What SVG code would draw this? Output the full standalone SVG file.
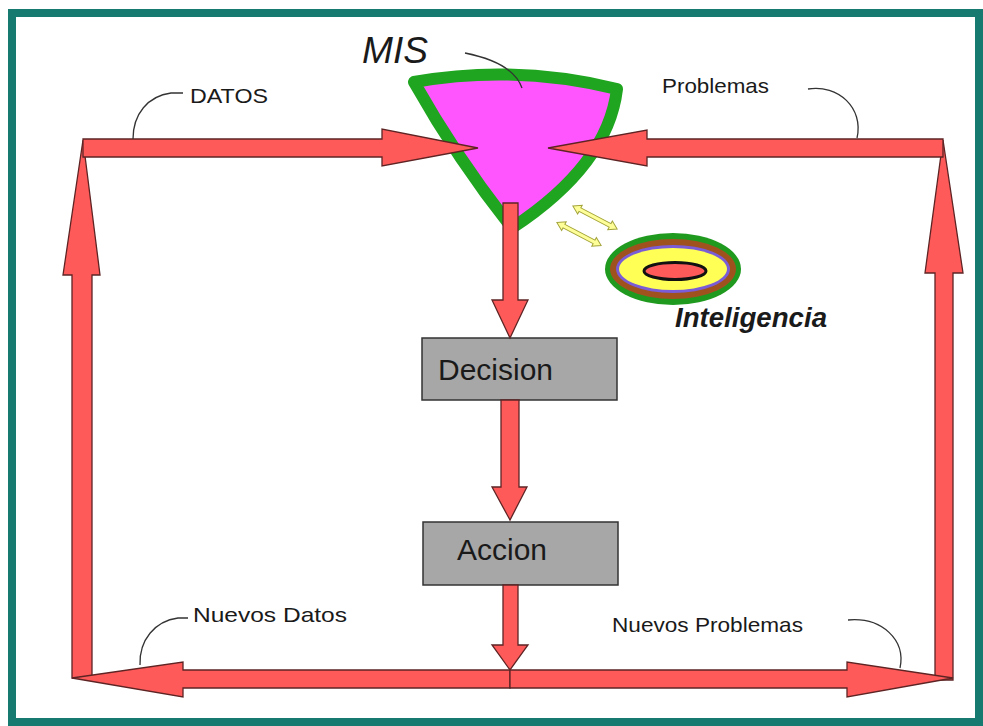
<svg xmlns="http://www.w3.org/2000/svg" width="983" height="726" viewBox="0 0 983 726">
  <style>
    .frame { fill: #ffffff; stroke: #167a70; stroke-width: 8; }
    .flow { fill: #ff5a5a; stroke: #5e2424; stroke-width: 1.3; stroke-linejoin: miter; }
    .box { fill: #a7a7a7; stroke: #333333; stroke-width: 1.5; }
    .lbl { font-family: "Liberation Sans", Arial, sans-serif; fill: #1a1a1a; }
    .leader { fill: none; stroke: #333333; stroke-width: 1.3; }
    .swap { fill: #ffff99; stroke: #a3a33a; stroke-width: 1; }
  </style>
  <defs>
    <!-- small double-headed arrow, centred on the origin -->
    <polygon id="dbl" class="swap" points="-25,0 -17,-5 -17,-2 17,-2 17,-5 25,0 17,5 17,2 -17,2 -17,5"/>
  </defs>

  <rect width="983" height="726" fill="#ffffff"/>
  <rect class="frame" x="12" y="13" width="967" height="709"/>

  <!-- MIS funnel -->
  <g id="mis">
    <path d="M414,82 Q515,64 617,89 Q608,165 512,228 Q458,160 414,82 Z" fill="#ff55ff" stroke="#1fa51f" stroke-width="12" stroke-linejoin="round"/>
    <text class="lbl" x="362" y="63" font-size="36" font-style="italic" textLength="66" lengthAdjust="spacingAndGlyphs">MIS</text>
    <path class="leader" d="M465,53 C490,58 515,68 522,88"/>
  </g>

  <!-- Inteligencia -->
  <g id="inteligencia">
    <ellipse cx="673" cy="269" rx="68" ry="36" fill="#1f9a1f"/>
    <ellipse cx="673" cy="269" rx="63" ry="30" fill="#a0521e"/>
    <ellipse cx="673" cy="269" rx="57" ry="24" fill="#7a5cd6"/>
    <ellipse cx="673" cy="269" rx="54" ry="21" fill="#ffff55"/>
    <ellipse cx="675" cy="271" rx="31" ry="8.5" fill="#ff5a5a" stroke="#111111" stroke-width="3"/>
    <text class="lbl" x="675" y="327" font-size="27" font-weight="bold" font-style="italic" textLength="152" lengthAdjust="spacingAndGlyphs">Inteligencia</text>
    <use href="#dbl" transform="translate(595,217.5) rotate(27.6)"/>
    <use href="#dbl" transform="translate(579,234) rotate(27.6)"/>
  </g>

  <!-- Decision -->
  <g id="decision">
    <rect class="box" x="422" y="338" width="195" height="62"/>
    <text class="lbl" x="438" y="380" font-size="29" textLength="115" lengthAdjust="spacingAndGlyphs">Decision</text>
  </g>

  <!-- Accion -->
  <g id="accion">
    <rect class="box" x="423" y="522" width="195" height="63"/>
    <text class="lbl" x="457" y="560" font-size="29" textLength="90" lengthAdjust="spacingAndGlyphs">Accion</text>
  </g>

  <!-- block arrows of the loop -->
  <g id="connectors">
    <polygon class="flow" points="72,678 72,275 63,275 83,140 100,275 92,275 92,678"/>
    <polygon class="flow" points="935,680 935,273 925,273 943,140 963,273 953,273 953,680"/>
    <polygon class="flow" points="83,139 382,139 382,129 478,148 382,166 382,157 83,157"/>
    <polygon class="flow" points="943,139 647,139 647,130 548,148 647,166 647,157 943,157"/>
    <polygon class="flow" points="503,203 518,203 518,300 528,300 510,338 492,300 503,300"/>
    <polygon class="flow" points="501,400 519,400 519,487 527,487 510,520 492,487 501,487"/>
    <polygon class="flow" points="503,585 518,585 518,645 528,645 510,670 492,645 503,645"/>
    <polygon class="flow" points="510,670 183,670 183,662 72,678 183,697 183,688 510,688"/>
    <polygon class="flow" points="510,670 847,670 847,662 953,678 847,697 847,688 510,688"/>
  </g>

  <!-- flow labels -->
  <g id="labels">
    <text class="lbl" x="190" y="103" font-size="21" textLength="78" lengthAdjust="spacingAndGlyphs">DATOS</text>
    <path class="leader" d="M183,93 L171,93 C148,96 133,114 133,139"/>
    <text class="lbl" x="662" y="93" font-size="21" textLength="107" lengthAdjust="spacingAndGlyphs">Problemas</text>
    <path class="leader" d="M808,89 C838,84 864,108 857,138"/>
    <text class="lbl" x="193" y="622" font-size="21" textLength="154" lengthAdjust="spacingAndGlyphs">Nuevos  Datos</text>
    <path class="leader" d="M188,618 L178,618 C155,621 139,640 140,665"/>
    <text class="lbl" x="612" y="632" font-size="21" textLength="191" lengthAdjust="spacingAndGlyphs">Nuevos  Problemas</text>
    <path class="leader" d="M848,620 C882,617 906,640 900,668"/>
  </g>
</svg>
